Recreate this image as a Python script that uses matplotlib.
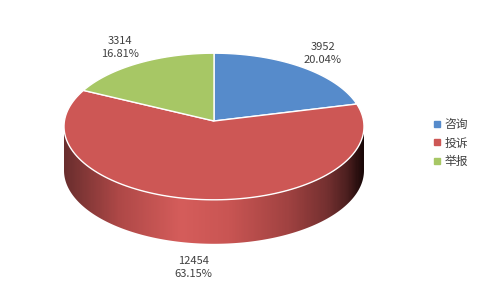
import numpy as np
import matplotlib
matplotlib.use("Agg")
import matplotlib.pyplot as plt
from matplotlib.patches import Polygon
from matplotlib.lines import Line2D
from matplotlib.colors import LinearSegmentedColormap

plt.rcParams['font.family'] = ['Noto Sans CJK SC', 'DejaVu Sans']

labels = ['咨询', '投诉', '举报']
values = [3952, 12454, 3314]
colors = ['#568bcb', '#cd5755', '#a7c765']

# pie geometry in pixels
cx, cy = 214, 126.5      # ellipse centre
vx, vy = 214, 121        # where the wedges meet
rx, ry = 150, 73.3
depth = 44


def edge(theta):
    # theta in degrees, clockwise from 12 o'clock
    t = np.radians(theta)
    return cx + rx * np.sin(t), cy - ry * np.cos(t)


fig = plt.figure(figsize=(4.8, 2.88), dpi=100)
ax = fig.add_axes([0, 0, 1, 1])
ax.set_xlim(0, 480)
ax.set_ylim(288, 0)
ax.axis('off')

# side of the cylinder (front half, all red here)
th_front = np.linspace(90, 270, 200)
xs_t, ys_t = edge(th_front)
xs_b, ys_b = edge(th_front[::-1])
side = np.column_stack([np.r_[xs_t, xs_b], np.r_[ys_t, ys_b + depth]])
side_patch = Polygon(side, closed=True, facecolor='none', edgecolor='none')
ax.add_patch(side_patch)

shade = LinearSegmentedColormap.from_list('side', [
    (0.00, '#6a2e2e'), (0.18, '#ae4847'), (0.39, '#d55d5b'),
    (0.55, '#c95553'), (0.75, '#a04241'), (0.88, '#743030'),
    (0.95, '#4a1e1e'), (1.00, '#1a0808')])
grad = np.linspace(0, 1, 300).reshape(1, -1)
img = ax.imshow(grad, cmap=shade, aspect='auto',
                extent=[cx - rx, cx + rx, cy + ry + depth + 2, cy - 5],
                interpolation='bilinear', zorder=1)
img.set_clip_path(side_patch)

# top face wedges
total = sum(values)
start = 0.0
for lab, val, col in zip(labels, values, colors):
    span = 360.0 * val / total
    th = np.linspace(start, start + span, 120)
    ex, ey = edge(th)
    pts = np.column_stack([np.r_[vx, ex], np.r_[vy, ey]])
    ax.add_patch(Polygon(pts, closed=True, facecolor=col, edgecolor='white',
                         linewidth=1.0, zorder=3))

    mid = start + span / 2
    mx, my = edge(mid)
    dx = rx * np.sin(np.radians(mid))
    dy = -ry * np.cos(np.radians(mid))
    if dy > 0:
        my += depth
    n = np.hypot(dx, dy)
    tx, ty = mx + dx / n * 24.5, my + dy / n * 24.5
    ax.text(tx, ty, '%d\n%.2f%%' % (val, 100.0 * val / total),
            ha='center', va='center', fontsize=8, color='#404040',
            linespacing=1.35, zorder=5)
    start += span

handles = [Line2D([], [], marker='s', linestyle='none', markersize=4.5,
                  markerfacecolor=c, markeredgecolor=c) for c in colors]
fig.legend(handles, labels, loc='center left', bbox_to_anchor=(423 / 480, 1 - 143 / 288),
           frameon=False, fontsize=8.5, handlelength=0.6, handletextpad=0.35,
           labelspacing=0.45, labelcolor='#404040')

fig.savefig('out.png', dpi=100)
